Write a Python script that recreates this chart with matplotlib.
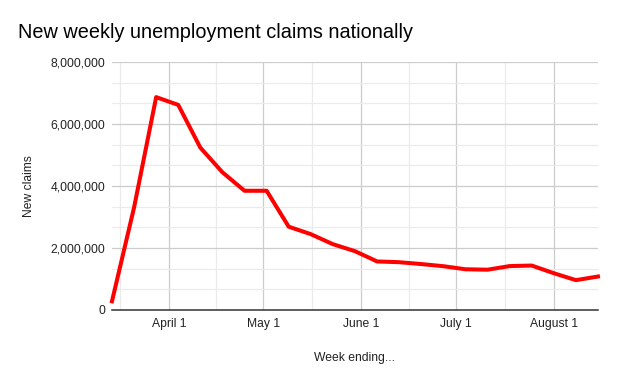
import matplotlib
matplotlib.use("Agg")
import matplotlib.pyplot as plt
import matplotlib.ticker as mticker
import numpy as np
import pandas as pd

plt.rcParams['font.family'] = ['Liberation Sans', 'DejaVu Sans']

# weekly initial claims, weeks ending Mar 14 .. Aug 15 2020
week_ending = pd.date_range("2020-03-14", "2020-08-15", freq="7D")
claims = [282000, 3307000, 6867000, 6615000, 5237000, 4442000, 3846000,
          3846000, 2687000, 2446000, 2123000, 1897000, 1566000, 1542000,
          1482000, 1413000, 1314000, 1300000, 1416000, 1434000, 1186000,
          963000, 1080000]

month_ticks = pd.to_datetime(["2020-04-01", "2020-05-01", "2020-06-01",
                              "2020-07-01", "2020-08-01"])
month_labels = ["April 1", "May 1", "June 1", "July 1", "August 1"]
mid_ticks = pd.to_datetime(["2020-03-16 12:00", "2020-04-16 00:00", "2020-05-16 12:00",
                            "2020-06-16 00:00", "2020-07-16 12:00"])

fig = plt.figure(figsize=(6.18, 3.82), dpi=100)
ax = fig.add_axes([0.1812, 0.1885, 0.7864, 0.6492])

ax.plot(week_ending, claims, color='#ff0000', lw=2.9, solid_joinstyle='round',
        clip_on=False, zorder=3)

ax.set_xlim(week_ending[0], week_ending[-1])
ax.set_ylim(0, 8000000)

ax.set_xticks(month_ticks)
ax.set_xticklabels(month_labels)
ax.set_xticks(mid_ticks, minor=True)
ax.set_yticks(np.arange(0, 8000001, 2000000))
ax.set_yticks(np.arange(0, 8000001, 2000000 / 3), minor=True)
ax.yaxis.set_major_formatter(mticker.FuncFormatter(lambda v, p: f"{int(v):,}"))

ax.grid(which='major', color='#cccccc', lw=0.9)
ax.grid(which='minor', color='#ebebeb', lw=0.9)
ax.set_axisbelow(True)

for s in ['top', 'right', 'left']:
    ax.spines[s].set_visible(False)
ax.spines['bottom'].set_color('#333333')
ax.spines['bottom'].set_linewidth(1.1)
ax.spines['bottom'].set_zorder(4)

ax.tick_params(which='both', length=0, labelsize=8.7, colors='#222222')
ax.tick_params(axis='x', pad=5.5)
ax.tick_params(axis='y', pad=5)

ax.set_xlabel("Week ending...", fontsize=8.7, color='#222222', labelpad=16)
ax.set_ylabel("New claims", fontsize=8.7, color='#222222', labelpad=11)

fig.text(18 / 618, 1 - 32 / 382, "New weekly unemployment claims nationally",
         fontsize=14.3, color='#000000', va='center', ha='left')

fig.savefig("out.png", dpi=100, facecolor='white')
